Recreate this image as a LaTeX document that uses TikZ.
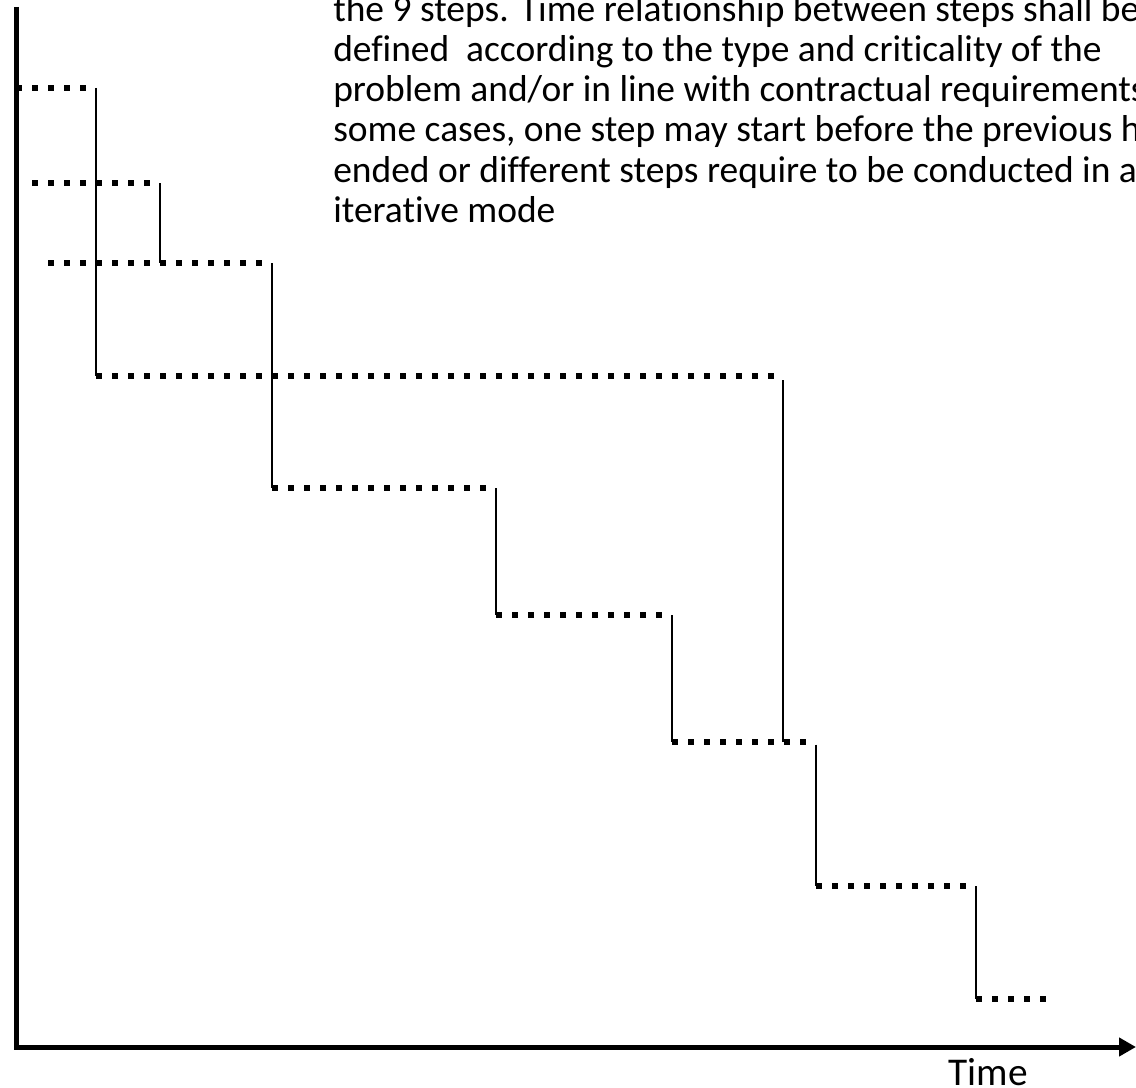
\documentclass[tikz,border=0pt]{standalone}
\usepackage{fontspec}
\setmainfont{Carlito}[Ligatures={NoCommon}]
\usetikzlibrary{arrows.meta}
\begin{document}
\begin{tikzpicture}[x=0.75pt,y=-0.75pt,
  axis/.style={line width=3.75pt},
  dots/.style={line width=4.8pt, dash pattern=on 4.8pt off 7.2pt, line cap=butt},
  link/.style={line width=1.5pt},
  txt/.style={anchor=base west, inner sep=0pt, font=\fontsize{28.1pt}{30pt}\selectfont},
]
\useasboundingbox (0,0) rectangle (1136,1088);
\clip (0,0) rectangle (1136,1088);
% axes
\coordinate (top) at (16,7);
\coordinate (origin) at (16,1047);
\coordinate (xend) at (1136,1047);
\draw[axis, -{Triangle[length=12.75pt,width=13.5pt]}] (top) -- (origin) -- (xend);
\node[anchor=base, inner sep=0pt, font=\fontsize{29.5pt}{32pt}\selectfont] (time) at (988,1085) {Time};
% step coordinates
\coordinate (s1a) at (16,88);   \coordinate (s1b) at (96,88);
\coordinate (s2a) at (32,183);  \coordinate (s2b) at (160,183);
\coordinate (s3a) at (48,263);  \coordinate (s3b) at (272,263);
\coordinate (s4a) at (96,376);  \coordinate (s4b) at (783,376);
\coordinate (s5a) at (272,488); \coordinate (s5b) at (496,488);
\coordinate (s6a) at (496,615); \coordinate (s6b) at (672,615);
\coordinate (s7a) at (672,742); \coordinate (s7b) at (816,742);
\coordinate (s8a) at (816,886); \coordinate (s8b) at (976,886);
\coordinate (s9a) at (976,999); \coordinate (s9b) at (1052,999);
% dotted bars
\draw[dots] (s1a) -- ([xshift=-6pt]s1b);
\draw[dots] (s2a) -- ([xshift=-5pt]s2b);
\draw[dots] (s3a) -- ([xshift=-5pt]s3b);
\draw[dots] (s4a) -- ([xshift=-5pt]s4b);
\draw[dots] (s5a) -- ([xshift=-4pt]s5b);
\draw[dots] (s6a) -- ([xshift=-5pt]s6b);
\draw[dots] (s7a) -- ([xshift=-4pt]s7b);
\draw[dots] (s8a) -- ([xshift=-6pt]s8b);
\draw[dots] (s9a) -- (s9b);
% vertical links
\draw[link] (s1b) -- (s4a);
\draw[link] (s2b) -- (160,263);
\draw[link] (s3b) -- (s5a);
\draw[link] ([yshift=-3pt]s4b) -- (783,742);
\draw[link] (s5b) -- (s6a);
\draw[link] (s6b) -- (s7a);
\draw[link] ([yshift=-2pt]s7b) -- (s8a);
\draw[link] (s8b) -- (s9a);
% text
\node[txt] (t0) at (333,22) {the 9 steps. Time relationship between steps shall be};
\node[txt] (t1) at (333,62) {defined\ \ according to the type and criticality of the};
\node[txt] (t2) at (333,102) {problem and/or in line with contractual requirements};
\node[txt] (t3) at (333,142) {some cases, one step may start before the previous h};
\node[txt] (t4) at (333,182) {ended or different steps require to be conducted in a};
\node[txt] (t5) at (333,222) {iterative mode};
\end{tikzpicture}
\end{document}
